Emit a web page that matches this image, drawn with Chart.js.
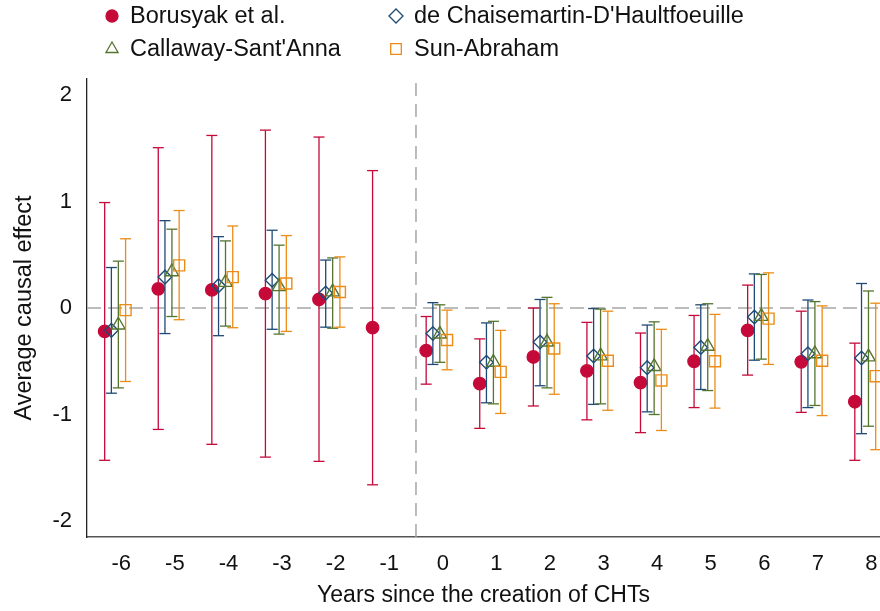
<!DOCTYPE html>
<html>
<head>
<meta charset="utf-8">
<script src="https://cdn.jsdelivr.net/npm/chart.js@4.4.1/dist/chart.umd.min.js"></script>
<style>
  html, body { margin: 0; padding: 0; background: #fff; }
  #wrap { width: 880px; height: 611px; }
</style>
</head>
<body>
<div id="wrap"><canvas id="c" width="880" height="611"></canvas></div>
<script>
// years since the creation of CHTs
const years = [-6, -5, -4, -3, -2, -1, 0, 1, 2, 3, 4, 5, 6, 7, 8];
const yTicks = [-2, -1, 0, 1, 2];

// Borusyak et al.
const borusyak   = [-0.22, 0.18, 0.17, 0.135, 0.08, -0.185, -0.40, -0.71, -0.46, -0.59, -0.70, -0.50, -0.21, -0.505, -0.88];
const borusyakLo = [-1.43, -1.14, -1.28, -1.40, -1.44, -1.66, -0.715, -1.13, -0.92, -1.05, -1.17, -0.935, -0.63, -0.98, -1.43];
const borusyakHi = [0.99, 1.505, 1.62, 1.67, 1.605, 1.29, -0.08, -0.29, 0.0, -0.135, -0.235, -0.07, 0.215, -0.03, -0.33];

// de Chaisemartin-D'Haultfoeuille
const dcdh   = [-0.21, 0.29, 0.21, 0.26, 0.14, null, -0.24, -0.51, -0.32, -0.45, -0.56, -0.37, -0.085, -0.43, -0.47];
const dcdhLo = [-0.80, -0.24, -0.26, -0.20, -0.18, null, -0.53, -0.89, -0.73, -0.905, -0.975, -0.765, -0.49, -0.935, -1.18];
const dcdhHi = [0.38, 0.82, 0.67, 0.73, 0.45, null, 0.05, -0.14, 0.08, -0.005, -0.16, 0.03, 0.32, 0.075, 0.23];

// Callaway-Sant'Anna
const callaway   = [-0.16, 0.34, 0.24, 0.20, 0.15, null, -0.245, -0.51, -0.32, -0.45, -0.55, -0.36, -0.08, -0.43, -0.46];
const callawayLo = [-0.75, -0.08, -0.17, -0.245, -0.19, null, -0.51, -0.90, -0.75, -0.90, -1.00, -0.775, -0.48, -0.915, -1.11];
const callawayHi = [0.44, 0.74, 0.63, 0.59, 0.47, null, 0.03, -0.125, 0.10, -0.01, -0.13, 0.04, 0.315, 0.06, 0.16];

// Sun-Abraham
const sunAbraham   = [-0.02, 0.40, 0.29, 0.23, 0.15, null, -0.30, -0.60, -0.38, -0.495, -0.68, -0.50, -0.10, -0.495, -0.64];
const sunAbrahamLo = [-0.69, -0.11, -0.185, -0.22, -0.18, null, -0.58, -0.99, -0.81, -0.96, -1.15, -0.94, -0.53, -1.01, -1.33];
const sunAbrahamHi = [0.65, 0.915, 0.77, 0.68, 0.48, null, -0.02, -0.21, 0.04, -0.03, -0.20, -0.06, 0.33, 0.02, 0.045];

const FONT = "'Liberation Sans', Arial, Helvetica, sans-serif";
const X_MIN = -6.64, X_MAX = 8.16, Y_MIN = -2.15, Y_MAX = 2.15;

const series = [
  { label: 'Borusyak et al.', est: borusyak, lo: borusyakLo, hi: borusyakHi,
    color: '#c50a3a', style: 'circle', radius: 6.2, filled: true, shift: -0.31,
    legend: { x: 112, y: 16, r: 6 } },
  { label: "de Chaisemartin-D'Haultfoeuille", est: dcdh, lo: dcdhLo, hi: dcdhHi,
    color: '#1f4a75', style: 'rectRot', radius: 6.8, filled: false, shift: -0.185,
    legend: { x: 396, y: 16, r: 7 } },
  { label: "Callaway-Sant'Anna", est: callaway, lo: callawayLo, hi: callawayHi,
    color: '#55752f', style: 'triangle', radius: 7.8, filled: false, shift: -0.055,
    legend: { x: 112, y: 49, r: 7 } },
  { label: 'Sun-Abraham', est: sunAbraham, lo: sunAbrahamLo, hi: sunAbrahamHi,
    color: '#ec8c18', style: 'rect', radius: 7.8, filled: false, shift: 0.08,
    legend: { x: 396, y: 49, r: 7.5 } }
];

const datasets = [];
series.forEach((s, k) => {
  const ci = [];
  const pts = [];
  years.forEach((yr, i) => {
    if (s.est[i] === null) return;
    const x = yr + s.shift;
    ci.push({ x: x, y: s.lo[i] }, { x: x, y: s.hi[i] }, { x: x, y: null });
    pts.push({ x: x, y: s.est[i] });
  });
  datasets.push({
    data: ci, order: 10 - 2 * k,
    borderColor: s.color, borderWidth: 1.3, spanGaps: false,
    pointStyle: 'line', pointRadius: 5.5, pointBorderWidth: 1.3,
    pointBorderColor: s.color, pointHoverRadius: 5.5
  });
  datasets.push({
    data: pts, order: 9 - 2 * k, showLine: false,
    pointStyle: s.style, pointRadius: s.radius, pointHoverRadius: s.radius,
    pointBorderWidth: 1.4, pointBorderColor: s.color,
    pointBackgroundColor: s.filled ? s.color : 'rgba(0,0,0,0)'
  });
});

// reference lines
datasets.push({
  data: [{ x: X_MIN, y: 0 }, { x: X_MAX, y: 0 }], order: 30,
  borderColor: '#a6a6a6', borderWidth: 1.5, borderDash: [14, 7], pointRadius: 0
});
datasets.push({
  data: [{ x: -0.5, y: Y_MIN }, { x: -0.5, y: Y_MAX }], order: 30,
  borderColor: '#a6a6a6', borderWidth: 1.5, borderDash: [13, 8], pointRadius: 0
});

const legendPlugin = {
  id: 'stataLegend',
  afterDraw(chart) {
    const ctx = chart.ctx;
    series.forEach(s => {
      ctx.save();
      ctx.lineWidth = 1.3;
      ctx.strokeStyle = s.color;
      ctx.fillStyle = s.filled ? s.color : 'rgba(0,0,0,0)';
      Chart.helpers.drawPoint(ctx, { pointStyle: s.style, radius: s.legend.r, rotation: 0, borderWidth: 1.3 }, s.legend.x, s.legend.y);
      ctx.fillStyle = '#111';
      ctx.font = '23.5px ' + FONT;
      ctx.textBaseline = 'middle';
      ctx.textAlign = 'left';
      ctx.fillText(s.label, s.legend.x + 18, s.legend.y + 1);
      ctx.restore();
    });
  }
};

new Chart(document.getElementById('c'), {
  type: 'line',
  data: { datasets: datasets },
  plugins: [legendPlugin],
  options: {
    responsive: false,
    animation: false,
    events: [],
    layout: { autoPadding: false, padding: { top: 79, left: 0, right: 0, bottom: 0 } },
    plugins: { legend: { display: false }, tooltip: { enabled: false } },
    scales: {
      x: {
        type: 'linear', min: X_MIN, max: X_MAX,
        afterBuildTicks: sc => { sc.ticks = years.map(v => ({ value: v })); },
        afterFit: sc => { sc.height = 74; sc.paddingLeft = 0; sc.paddingRight = 0; },
        grid: { display: false, drawTicks: false },
        border: { display: true, color: '#555', width: 1.5 },
        ticks: { font: { family: FONT, size: 22 }, color: '#111', padding: 14, maxRotation: 0, autoSkip: false },
        title: { display: true, text: 'Years since the creation of CHTs', color: '#111',
                 font: { family: FONT, size: 23 }, padding: { top: 0, bottom: 2 } }
      },
      y: {
        type: 'linear', min: Y_MIN, max: Y_MAX,
        afterBuildTicks: sc => { sc.ticks = yTicks.map(v => ({ value: v })); },
        afterFit: sc => { sc.width = 87; sc.paddingTop = 0; sc.paddingBottom = 0; },
        grid: { display: false, drawTicks: false },
        border: { display: true, color: '#222', width: 1.3 },
        ticks: { font: { family: FONT, size: 22 }, color: '#111', padding: 15 },
        title: { display: true, text: 'Average causal effect', color: '#111',
                 font: { family: FONT, size: 23.5 }, padding: { top: 10, bottom: 0 } }
      }
    }
  }
});
</script>
</body>
</html>
